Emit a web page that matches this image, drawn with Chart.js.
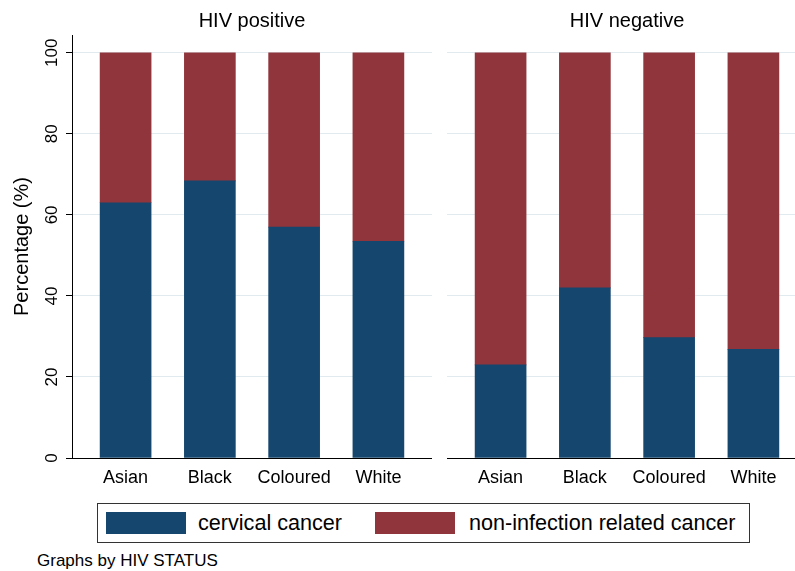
<!DOCTYPE html>
<html>
<head>
<meta charset="utf-8">
<script src="https://cdn.jsdelivr.net/npm/chart.js@4.4.0/dist/chart.umd.min.js"></script>
<style>
  body { margin: 0; background: #fff; }
  #wrap { position: relative; width: 795px; height: 571px; overflow: hidden; font-family: "Liberation Sans", Arial, sans-serif; color: #000; }
  #posChart { position: absolute; left: 0; top: 0; }
  #negChart { position: absolute; left: 447px; top: 0; }
  .legend { position: absolute; left: 97px; top: 503px; width: 651px; height: 38px; border: 1px solid #333; box-sizing: content-box; }
  .sw { position: absolute; top: 8px; width: 80px; height: 22px; }
  .lt { position: absolute; top: 7px; font-size: 21.6px; line-height: 24px; white-space: nowrap; }
  .note { position: absolute; left: 37px; top: 551px; font-size: 17px; line-height: 20px; white-space: nowrap; }
</style>
</head>
<body>
<div id="wrap">
  <canvas id="posChart" width="432" height="500"></canvas>
  <canvas id="negChart" width="360" height="500"></canvas>
  <div class="legend">
    <div class="sw" style="left:8px;background:#15466e"></div>
    <div class="lt" style="left:100px">cervical cancer</div>
    <div class="sw" style="left:277px;background:#90353b"></div>
    <div class="lt" style="left:371px">non-infection related cancer</div>
  </div>
  <div class="note">Graphs by HIV STATUS</div>
</div>
<script>
// data
const categories = ['Asian', 'Black', 'Coloured', 'White'];
const posCervical = [63.0, 68.4, 57.0, 53.5];
const posNonInfection = [37.0, 31.6, 43.0, 46.5];
const negCervical = [23.0, 42.0, 29.7, 26.8];
const negNonInfection = [77.0, 58.0, 70.3, 73.2];
const yTicks = [0, 20, 40, 60, 80, 100];

const FONT = '"Liberation Sans", Arial, sans-serif';
const BLUE = '#15466e';
const RED = '#90353b';
const GRID = 'rgb(225,235,239)';

const rotatedYLabels = {
    id: 'rotatedYLabels',
    afterDraw(chart, args, opts) {
        if (!opts.show) return;
        const scale = chart.scales.y;
        const ctx = chart.ctx;
        ctx.save();
        ctx.fillStyle = '#000';
        ctx.font = '17px ' + FONT;
        ctx.textAlign = 'center';
        ctx.textBaseline = 'middle';
        yTicks.forEach(v => {
            ctx.save();
            ctx.translate(scale.right - 20, scale.getPixelForValue(v));
            ctx.rotate(-Math.PI / 2);
            ctx.fillText(String(v), 0, 0);
            ctx.restore();
        });
        ctx.restore();
    }
};

function toPoints(vals) {
    return vals.map((v, i) => ({ x: i, y: v }));
}

function makePanel(id, title, cervical, nonInfection, showY) {
    return new Chart(document.getElementById(id), {
        type: 'bar',
        data: {
            datasets: [
                { label: 'cervical cancer', data: toPoints(cervical), backgroundColor: BLUE, barThickness: 51 },
                { label: 'non-infection related cancer', data: toPoints(nonInfection), backgroundColor: RED, barThickness: 51 }
            ]
        },
        options: {
            responsive: false,
            animation: false,
            layout: { padding: 0 },
            plugins: {
                legend: { display: false },
                tooltip: { enabled: false },
                title: {
                    display: true,
                    fullSize: false,
                    text: title,
                    color: '#000',
                    font: { size: 20, family: FONT, weight: 'normal' },
                    padding: { top: 9, bottom: 2 }
                },
                rotatedYLabels: { show: showY }
            },
            scales: {
                x: {
                    type: 'linear',
                    stacked: true,
                    offset: false,
                    min: -0.636,
                    max: 3.636,
                    afterBuildTicks: a => { a.ticks = categories.map((c, i) => ({ value: i })); },
                    afterFit: s => { s.height = 42; },
                    grid: { display: false, offset: false },
                    border: { display: true, color: '#000', width: 1 },
                    ticks: {
                        color: '#000',
                        font: { size: 18, family: FONT },
                        padding: 1,
                        maxRotation: 0,
                        autoSkip: false,
                        callback: v => categories[v] ?? ''
                    }
                },
                y: {
                    stacked: true,
                    min: 0,
                    max: 104.4,
                    afterBuildTicks: a => { a.ticks = yTicks.map(v => ({ value: v })); },
                    afterFit: s => { s.width = showY ? 72 : 0; },
                    border: { display: showY, color: '#000', width: 1 },
                    grid: { color: GRID, lineWidth: 1, drawTicks: showY, tickLength: 6, tickColor: '#000' },
                    ticks: { display: false },
                    title: {
                        display: showY,
                        text: 'Percentage (%)',
                        color: '#000',
                        font: { size: 20, family: FONT },
                        padding: { top: 10, bottom: 0 }
                    }
                }
            }
        },
        plugins: [rotatedYLabels]
    });
}

makePanel('posChart', 'HIV positive', posCervical, posNonInfection, true);
makePanel('negChart', 'HIV negative', negCervical, negNonInfection, false);
</script>
</body>
</html>
